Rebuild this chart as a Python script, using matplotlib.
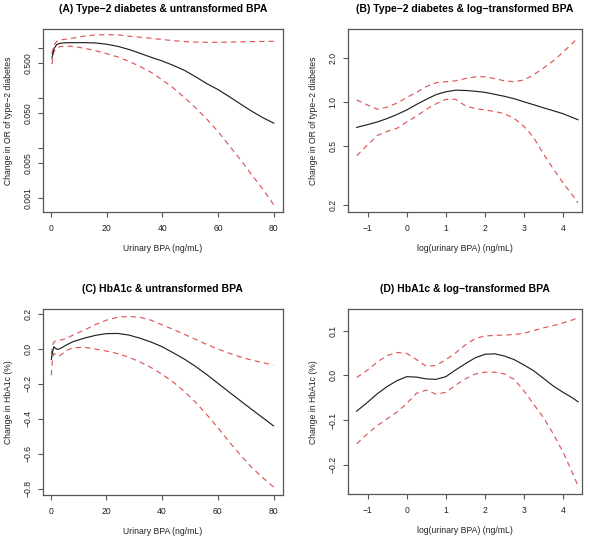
import matplotlib
matplotlib.use("Agg")
import matplotlib.pyplot as plt
import matplotlib.ticker as mticker

plt.rcParams['font.family'] = ['Liberation Sans', 'DejaVu Sans']

# ---------------- data ----------------
# Panel A: type-2 diabetes vs untransformed BPA (OR, log scale)
xa = [0.3, 1, 2, 3, 5, 8, 12, 16, 20, 24, 28, 32, 36, 40, 44, 48, 52, 56, 60, 64, 68, 72, 76, 80]
fit_a = [0.62, 0.95, 1.15, 1.22, 1.25, 1.26, 1.26, 1.24, 1.17, 1.06, 0.92, 0.77, 0.64, 0.54,
         0.44, 0.35, 0.26, 0.19, 0.145, 0.105, 0.075, 0.054, 0.04, 0.031]
up_a = [0.75, 1.1, 1.33, 1.42, 1.47, 1.56, 1.71, 1.8, 1.82, 1.8, 1.7, 1.62, 1.54, 1.45,
        1.38, 1.32, 1.29, 1.28, 1.28, 1.29, 1.31, 1.32, 1.33, 1.34]
lo_a = [0.47, 0.82, 0.98, 1.04, 1.08, 1.06, 0.97, 0.87, 0.76, 0.65, 0.53, 0.42, 0.32, 0.225,
        0.155, 0.10, 0.062, 0.037, 0.021, 0.011, 0.0058, 0.0029, 0.0015, 0.00072]

# Panel B: type-2 diabetes vs log-transformed BPA (OR, log scale)
xb = [-1.28, -1.0, -0.75, -0.5, -0.25, 0, 0.25, 0.5, 0.75, 1.0, 1.25, 1.5, 1.75, 2.0,
      2.25, 2.5, 2.75, 3.0, 3.25, 3.5, 3.75, 4.0, 4.25, 4.38]
fit_b = [0.67, 0.70, 0.73, 0.77, 0.82, 0.88, 0.96, 1.04, 1.12, 1.17, 1.20, 1.195, 1.18, 1.16,
         1.125, 1.09, 1.05, 1.0, 0.955, 0.91, 0.87, 0.83, 0.78, 0.755]
up_b = [1.03, 0.95, 0.89, 0.92, 0.98, 1.07, 1.16, 1.27, 1.35, 1.37, 1.39, 1.44, 1.48, 1.48,
        1.44, 1.39, 1.37, 1.41, 1.53, 1.70, 1.90, 2.18, 2.52, 2.73]
lo_b = [0.43, 0.51, 0.59, 0.63, 0.66, 0.73, 0.80, 0.89, 0.97, 1.04, 1.04, 0.94, 0.90, 0.88,
        0.86, 0.83, 0.77, 0.68, 0.57, 0.44, 0.35, 0.28, 0.23, 0.205]

# Panel C: HbA1c vs untransformed BPA
xc = [0.2, 0.6, 1.1, 1.6, 2.3, 3, 4, 5.6, 8, 12, 16, 20, 24, 28, 32, 36, 40, 44, 48, 52,
      56, 60, 64, 68, 72, 76, 80]
fit_c = [-0.06, -0.02, 0.013, 0.005, -0.002, 0.0, 0.008, 0.023, 0.042, 0.062, 0.078, 0.088,
         0.089, 0.080, 0.062, 0.040, 0.013, -0.022, -0.058, -0.100, -0.146, -0.196, -0.246,
         -0.295, -0.344, -0.392, -0.44]
up_c = [-0.03, 0.02, 0.04, 0.045, 0.048, 0.05, 0.053, 0.06, 0.08, 0.108, 0.14, 0.165, 0.182,
        0.186, 0.182, 0.165, 0.138, 0.112, 0.084, 0.055, 0.026, 0.0, -0.024, -0.045,
        -0.063, -0.078, -0.092]
lo_c = [-0.15, -0.06, -0.025, -0.03, -0.04, -0.04, -0.03, -0.008, 0.007, 0.01, 0.0, -0.012,
        -0.026, -0.047, -0.074, -0.106, -0.145, -0.19, -0.243, -0.305, -0.375, -0.45, -0.53,
        -0.605, -0.675, -0.735, -0.79]

# Panel D: HbA1c vs log-transformed BPA
xd = xb
fit_d = [-0.080, -0.060, -0.041, -0.025, -0.012, -0.003, -0.004, -0.008, -0.009, -0.003, 0.012,
         0.026, 0.039, 0.047, 0.048, 0.043, 0.035, 0.023, 0.010, -0.007, -0.024, -0.038,
         -0.051, -0.059]
up_d = [-0.005, 0.012, 0.030, 0.044, 0.051, 0.049, 0.035, 0.020, 0.022, 0.035, 0.050, 0.068,
        0.082, 0.088, 0.089, 0.090, 0.091, 0.094, 0.100, 0.106, 0.111, 0.117, 0.124, 0.129]
lo_d = [-0.153, -0.130, -0.112, -0.097, -0.082, -0.063, -0.040, -0.033, -0.042, -0.038, -0.022,
        -0.008, 0.003, 0.007, 0.007, 0.003, -0.009, -0.035, -0.065, -0.095, -0.131, -0.172,
        -0.220, -0.247]

titles = ["(A) Type\u22122 diabetes & untransformed BPA",
          "(B) Type\u22122 diabetes & log\u2212transformed BPA",
          "(C) HbA1c & untransformed BPA",
          "(D) HbA1c & log\u2212transformed BPA"]
xlabels = ["Urinary BPA (ng/mL)", "log(urinary BPA) (ng/mL)",
           "Urinary BPA (ng/mL)", "log(urinary BPA) (ng/mL)"]
ylabels = ["Change in OR of type\u22122 diabetes", "Change in OR of type\u22122 diabetes",
           "Change in HbA1c (%)", "Change in HbA1c (%)"]

xt_lin = [0, 20, 40, 60, 80]
xt_log = [-1, 0, 1, 2, 3, 4]
yt_a = [0.001, 0.005, 0.01, 0.05, 0.1, 0.5, 1.0]
yl_a = ["0.001", "0.005", "", "0.050", "", "0.500", ""]
yt_b = [0.2, 0.5, 1.0, 2.0]
yl_b = ["0.2", "0.5", "1.0", "2.0"]
yt_c = [-0.8, -0.6, -0.4, -0.2, 0.0, 0.2]
yt_d = [-0.2, -0.1, 0.0, 0.1]

# ---------------- layout ----------------
W, H = 590, 539
fig = plt.figure(figsize=(W / 100, H / 100), dpi=100)

def box(l, r, t, b):
    return [l / W, 1 - b / H, (r - l) / W, (b - t) / H]

axA = fig.add_axes(box(43, 283, 29, 212))
axB = fig.add_axes(box(347.7, 582.3, 29, 212))
axC = fig.add_axes(box(42.7, 282.7, 309, 495))
axD = fig.add_axes(box(347.7, 582.3, 309.3, 494))

RED = '#de5656'
BLK = '#222222'
DASH = (4.5, 3.5)
LW = 0.85

def draw(ax, x, fit, up, lo):
    ax.plot(x, up, color=RED, lw=LW, dashes=DASH)
    ax.plot(x, lo, color=RED, lw=LW, dashes=DASH)
    ax.plot(x, fit, color=BLK, lw=LW)

draw(axA, xa, fit_a, up_a, lo_a)
draw(axB, xb, fit_b, up_b, lo_b)
draw(axC, xc, fit_c, up_c, lo_c)
draw(axD, xd, fit_d, up_d, lo_d)

axA.set_yscale('log')
axB.set_yscale('log')
axA.set_xlim(-2.9, 83.3)
axC.set_xlim(-2.9, 83.3)
axB.set_xlim(-1.51, 4.49)
axD.set_xlim(-1.51, 4.49)
axA.set_ylim(0.00052, 2.36)
axB.set_ylim(0.178, 3.13)
axC.set_ylim(-0.836, 0.229)
axD.set_ylim(-0.265, 0.1474)

def minus(v, fmt):
    return (fmt % v).replace('-', '\u2212')

for ax in (axA, axC):
    ax.set_xticks(xt_lin)
    ax.set_xticklabels([str(v) for v in xt_lin])
for ax in (axB, axD):
    ax.set_xticks(xt_log)
    ax.set_xticklabels([minus(v, '%d') for v in xt_log])

axA.yaxis.set_minor_locator(mticker.NullLocator())
axB.yaxis.set_minor_locator(mticker.NullLocator())
axA.set_yticks(yt_a)
axA.set_yticklabels(yl_a)
axB.set_yticks(yt_b)
axB.set_yticklabels(yl_b)
axC.set_yticks(yt_c)
axC.set_yticklabels([minus(v, '%.1f') for v in yt_c])
axD.set_yticks(yt_d)
axD.set_yticklabels([minus(v, '%.1f') for v in yt_d])

FS_T = 7.5
FS = 6.2
for ax, t, xl, yl in zip((axA, axB, axC, axD), titles, xlabels, ylabels):
    ax.set_title(t, fontsize=FS_T, fontweight='bold', pad=12.5)
    ax.set_xlabel(xl, fontsize=FS, labelpad=7.5)
    ax.set_ylabel(yl, fontsize=FS, labelpad=7.5)
    for s in ax.spines.values():
        s.set_color('#555555')
        s.set_linewidth(0.9)
    ax.tick_params(axis='both', which='major', length=3.6, width=0.8, color='#555555',
                   labelsize=FS, labelcolor='#222222')
    ax.tick_params(axis='x', pad=5.3)
    ax.tick_params(axis='y', pad=3.7)
    for lab in ax.get_yticklabels():
        lab.set_rotation(90)
        lab.set_va('center')
    ax.xaxis.label.set_color('#222222')
    ax.yaxis.label.set_color('#222222')

fig.savefig('out.png', dpi=100)
